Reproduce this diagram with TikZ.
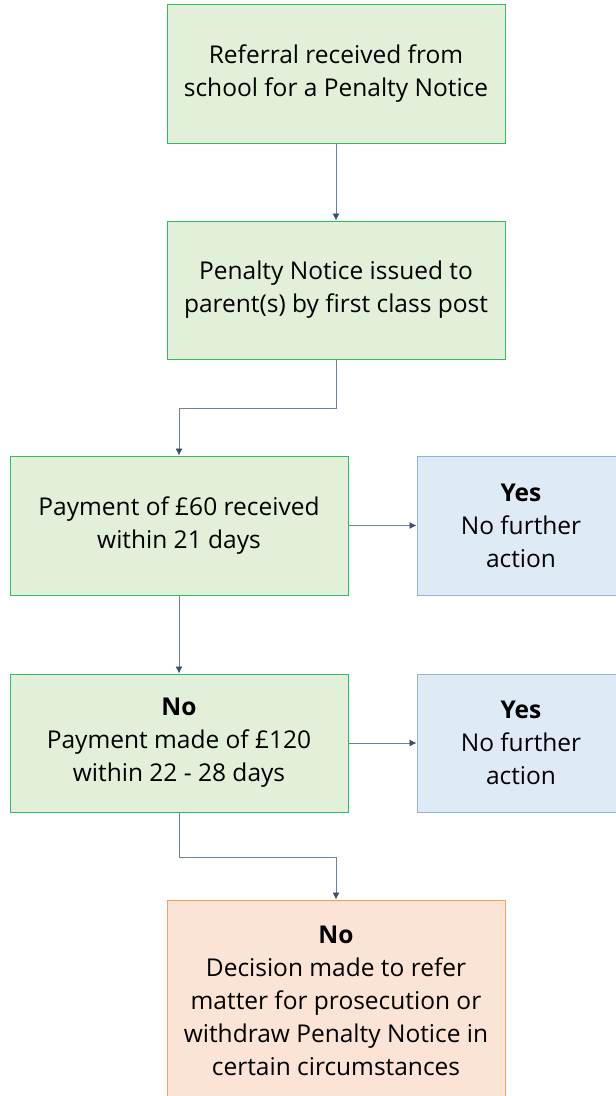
\documentclass[tikz,border=0pt]{standalone}
\usepackage{fontspec}
\setmainfont{Open Sans}
\usetikzlibrary{arrows.meta}

\definecolor{grfill}{HTML}{E2F0D9}
\definecolor{grline}{HTML}{2EBF5E}
\definecolor{blfill}{HTML}{DEEBF7}
\definecolor{blline}{HTML}{8FB4E0}
\definecolor{orfill}{HTML}{FBE3D5}
\definecolor{orline}{HTML}{F4A15E}
\definecolor{conn}{HTML}{6F829C}
\definecolor{tip}{HTML}{3B4E6B}

\tikzset{
  stage/.style={draw=grline, fill=grfill, line width=1pt, minimum width=338pt,
    align=center, font=\fontsize{24.5}{33}\selectfont, inner sep=0pt},
  done/.style={draw=blline, fill=blfill, line width=1pt, minimum width=208pt,
    minimum height=139pt, align=center, font=\fontsize{24.5}{33}\selectfont, inner sep=0pt},
  refer/.style={draw=orline, fill=orfill, line width=1pt, minimum width=338pt,
    minimum height=202pt, align=center, font=\fontsize{24.5}{33}\selectfont, inner sep=0pt},
  flow/.style={draw=conn, line width=0.9pt, -{Latex[length=7pt,width=7pt,color=tip]}}
}

\begin{document}
\begin{tikzpicture}[x=1pt,y=-1pt]
  \useasboundingbox (0,0) rectangle (616,1096);

  \node[stage, minimum height=139pt] (referral) at (336,73.5)
    {Referral received from\\school for a Penalty Notice};
  \node[stage, minimum height=138pt] (issued) at (336,290)
    {Penalty Notice issued to\\parent(s) by first class post};
  \node[stage, minimum height=139pt] (pay60) at (179,525.5)
    {Payment of £60 received\\within 21 days};
  \node[done] (yes60) at (521,525.5) {\textbf{Yes}\\No further\\action};
  \node[stage, minimum height=138pt] (pay120) at (179,743)
    {\textbf{No}\\Payment made of £120\\within 22 - 28 days};
  \node[done, minimum height=138pt] (yes120) at (521,743) {\textbf{Yes}\\No further\\action};
  \node[refer] (decide) at (336,1001)
    {\textbf{No}\\Decision made to refer\\matter for prosecution or\\withdraw Penalty Notice in\\certain circumstances};

  \draw[flow] (referral) -- (issued);
  \draw[flow] (issued.south) -- ++(0,49) -| (pay60.north);
  \draw[flow] (pay60) -- (yes60);
  \draw[flow] (pay60) -- (pay120);
  \draw[flow] (pay120) -- (yes120);
  \draw[flow] (pay120.south) -- ++(0,45) -| (decide.north);

\end{tikzpicture}
\end{document}
